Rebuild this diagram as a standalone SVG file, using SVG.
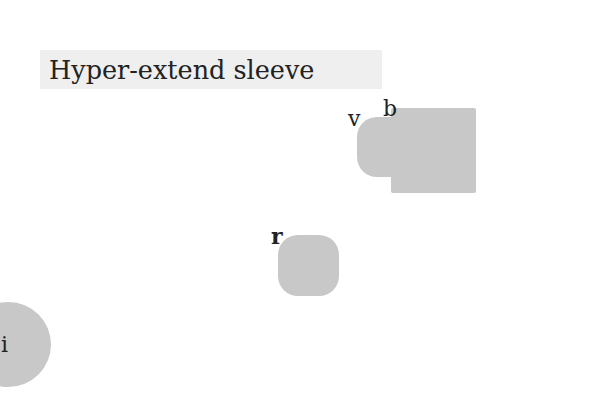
<svg xmlns="http://www.w3.org/2000/svg" width="600" height="400" viewBox="0 0 600 400">
<style>
.node{fill:#c8c8c8}
.lbl{font-family:"DejaVu Serif",serif;font-size:22px;fill:#222}
.title{font-family:"DejaVu Serif",serif;font-size:25.5px;fill:#222}
</style>
<rect x="0" y="0" width="600" height="400" fill="#fff"/>
<g id="title">
<rect x="40" y="50" width="342" height="39" fill="#efefef"/>
<text class="title" x="49" y="79">Hyper-extend sleeve</text>
</g>
<g id="connectors"></g>
<g id="node-b">
<rect class="node" x="391" y="108" width="85" height="85" rx="2"/>
<text class="lbl" x="383" y="116">b</text>
</g>
<g id="node-v">
<rect class="node" x="357" y="117" width="60" height="60" rx="20"/>
<text class="lbl" x="348" y="126">v</text>
</g>
<g id="node-r">
<rect class="node" x="278" y="235" width="61" height="61" rx="20"/>
<text class="lbl" x="271" y="244" font-weight="bold">r</text>
</g>
<g id="node-i">
<circle class="node" cx="8.5" cy="344.5" r="42.5"/>
<text class="lbl" x="1" y="352">i</text>
</g>
</svg>
